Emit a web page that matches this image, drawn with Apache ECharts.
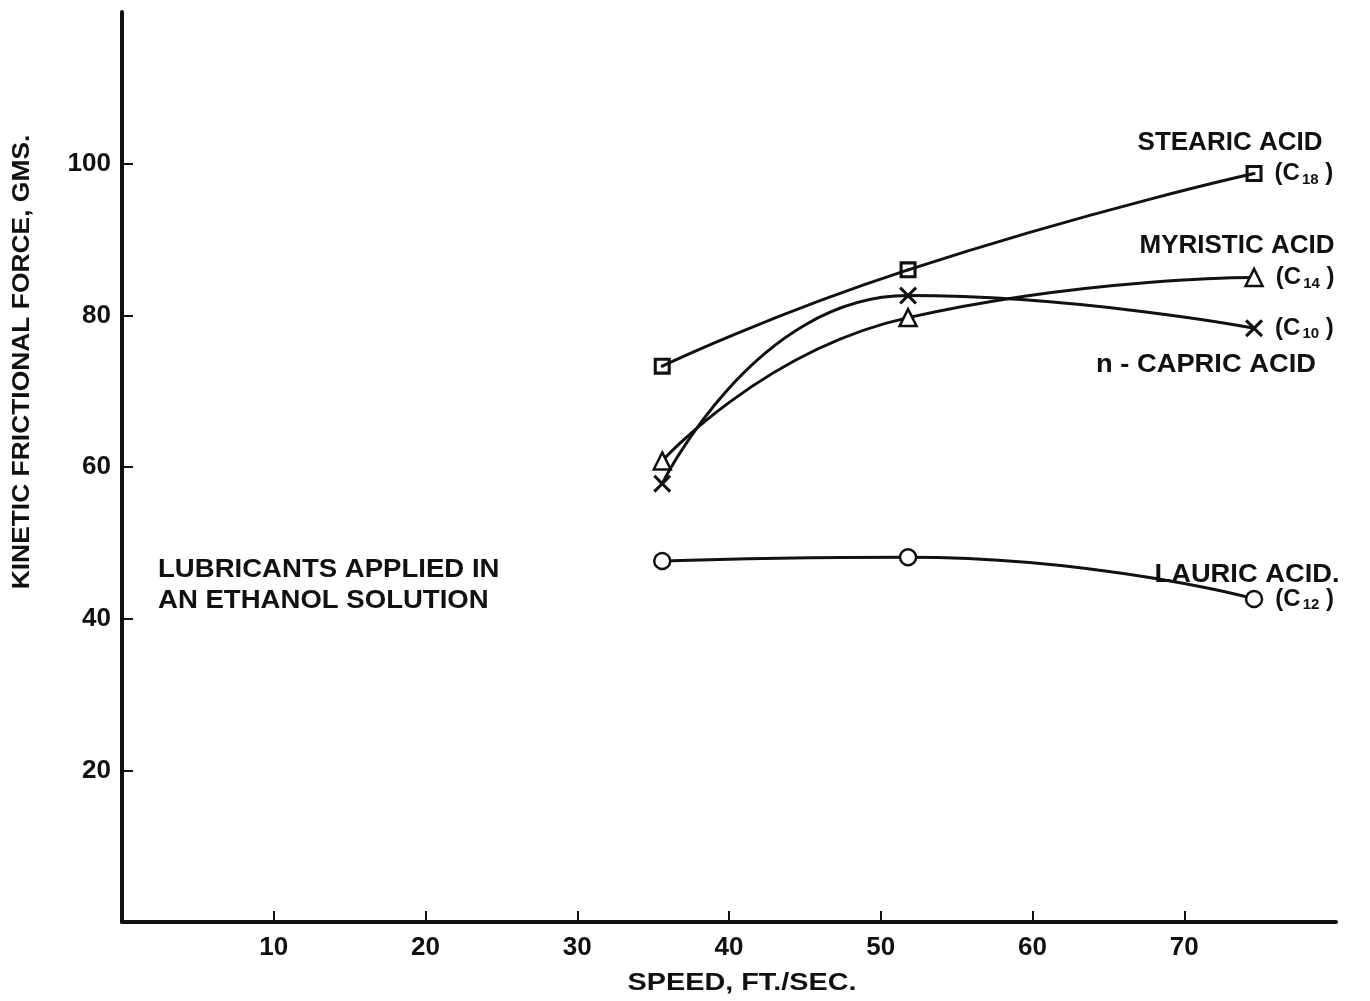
<!DOCTYPE html>
<html>
<head>
<meta charset="utf-8">
<script src="https://cdn.jsdelivr.net/npm/echarts@6/dist/echarts.min.js"></script>
<style>
html,body{margin:0;padding:0;background:#fff;}
#c{width:1370px;height:1001px;}
</style>
</head>
<body>
<div id="c"></div>
<script>
// ---- data ----
var speeds = [35.6, 51.8, 74.6];
var stearic = [73.3, 86.0, 98.7];   // C18
var myristic = [60.8, 79.7, 85.0];  // C14
var capric = [57.8, 82.6, 78.3];    // C10
var lauric = [47.6, 48.1, 42.6];    // C12
var xTicks = [10, 20, 30, 40, 50, 60, 70];
var yTicks = [20, 40, 60, 80, 100];

var FONT = 'Liberation Sans';
var ink = '#111';

function pts(vals, endLabel) {
  return vals.map(function (v, i) {
    var p = { value: [speeds[i], v] };
    if (endLabel && i === vals.length - 1) {
      p.label = {
        show: true, position: 'right', distance: 12,
        formatter: '{a|(C}{s|' + endLabel + '}{a| )}',
        rich: {
          a: { fontFamily: FONT, fontWeight: 'bold', fontSize: 24, color: ink },
          s: { fontFamily: FONT, fontWeight: 'bold', fontSize: 15, color: ink, padding: [12, 0, 0, 2] }
        }
      };
    }
    return p;
  });
}

var xSym = 'path://M0,1.2 L1.2,0 L5,3.8 L8.8,0 L10,1.2 L6.2,5 L10,8.8 L8.8,10 L5,6.2 L1.2,10 L0,8.8 L3.8,5 Z';
var boxSym = 'path://M0,0 H10 V10 H0 Z M1.8,1.8 V8.2 H8.2 V1.8 Z M4.2,4.2 H5.8 V5.8 H4.2 Z';

function series(name, vals, sym, size, sub, filled) {
  return {
    name: name, type: 'line', smooth: 0.55,
    data: pts(vals, sub),
    symbol: sym, symbolSize: size,
    lineStyle: { color: ink, width: 3 },
    itemStyle: { color: filled ? ink : '#fff', borderColor: ink, borderWidth: filled ? 0 : 2.5 },
    z: 3
  };
}

var chart = echarts.init(document.getElementById('c'));

function label(x, y, text, size, align, sx, rot) {
  return {
    type: 'text', x: x, y: y, rotation: rot || 0, scaleX: sx || 1,
    style: { text: text, font: 'bold ' + size + 'px ' + FONT, fill: ink, align: align, verticalAlign: 'middle' }
  };
}

chart.setOption({
  animation: false,
  backgroundColor: '#fff',
  grid: { left: 122, right: 34, top: 12, bottom: 79, containLabel: false },
  xAxis: {
    type: 'value', min: 0, max: 80, interval: 10,
    axisLine: { show: true, lineStyle: { color: ink, width: 4 } },
    axisTick: { show: true, inside: true, length: 11, customValues: xTicks, lineStyle: { color: ink, width: 2 } },
    axisLabel: { customValues: xTicks, margin: 13, fontFamily: FONT, fontWeight: 'bold', fontSize: 26, color: ink },
    splitLine: { show: false }
  },
  yAxis: {
    type: 'value', min: 0, max: 120, interval: 20,
    axisLine: { show: true, lineStyle: { color: ink, width: 4 } },
    axisTick: { show: true, inside: true, length: 11, customValues: yTicks, lineStyle: { color: ink, width: 2 } },
    axisLabel: { customValues: yTicks, margin: 11, fontFamily: FONT, fontWeight: 'bold', fontSize: 26, color: ink },
    splitLine: { show: false }
  },
  series: [
    {
      name: 'STEARIC ACID', type: 'line', smooth: 0.55,
      data: pts(stearic, '18'),
      symbol: boxSym, symbolSize: 17,
      lineStyle: { color: ink, width: 3 },
      itemStyle: { color: ink, borderWidth: 0 },
      z: 3
    },
    series('MYRISTIC ACID', myristic, 'triangle', 17, '14', false),
    series('n - CAPRIC ACID', capric, xSym, 18, '10', true),
    series('LAURIC ACID', lauric, 'circle', 16, '12', false)
  ],
  graphic: [
    label(22, 362, 'KINETIC FRICTIONAL FORCE, GMS.', 24, 'center', 1.1, Math.PI / 2),
    label(742, 983, 'SPEED, FT./SEC.', 24, 'center', 1.2),
    label(1230, 143, 'STEARIC ACID', 26, 'center'),
    label(1237, 246, 'MYRISTIC ACID', 26, 'center'),
    label(1206, 365, 'n - CAPRIC ACID', 26, 'center', 1.05),
    label(1247, 575, 'LAURIC ACID.', 26, 'center', 1.05),
    label(158, 570, 'LUBRICANTS APPLIED IN', 26, 'left', 1.06),
    label(158, 601, 'AN ETHANOL SOLUTION', 26, 'left', 1.06)
  ]
});
</script>
</body>
</html>
